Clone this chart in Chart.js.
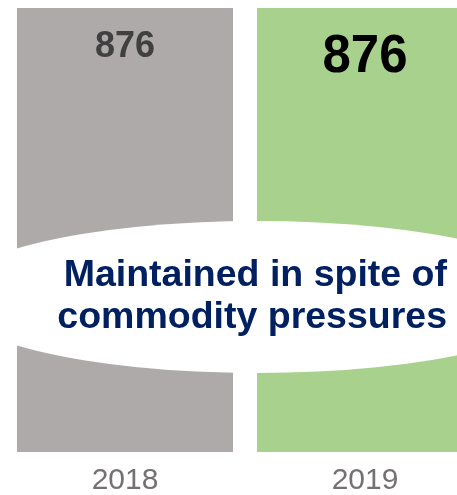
<!DOCTYPE html>
<html>
<head>
<meta charset="utf-8">
<script src="https://cdn.jsdelivr.net/npm/chart.js@4/dist/chart.umd.min.js"></script>
<style>
  html, body { margin: 0; padding: 0; background: #fff; overflow: hidden; }
  #wrap { position: relative; width: 485px; height: 495px; }
</style>
</head>
<body>
<div id="wrap"><canvas id="chart"></canvas></div>
<script>
"use strict";

// data
const years = ["2018", "2019"];
const values = [876, 876];
const barColors = ["#AEAAAA", "#A9D18E"];
const calloutLines = ["Maintained in spite of", "commodity pressures"];

// value labels on top of each bar: font px, vertical stretch, colour, baseline offset from bar top
const labelStyles = [
  { size: 36, stretch: 1.04, color: "#404040", drop: 49 },
  { size: 51, stretch: 1.06, color: "#000000", drop: 64 },
];

const FONT = "'Liberation Sans', Arial, Helvetica, sans-serif";

const calloutPlugin = {
  id: "callout",
  afterDatasetsDraw(chart) {
    const ctx = chart.ctx;
    // white oval across the middle of both bars
    ctx.save();
    ctx.fillStyle = "#ffffff";
    ctx.beginPath();
    ctx.ellipse(257, 297, 312, 76, 0, 0, Math.PI * 2);
    ctx.fill();

    ctx.fillStyle = "#002060";
    ctx.font = "bold 37.5px " + FONT;
    ctx.textAlign = "right";
    ctx.textBaseline = "alphabetic";
    ctx.fillText(calloutLines[0], 447, 286);
    ctx.fillText(calloutLines[1], 447, 328);
    ctx.restore();

    // bar value labels
    const meta = chart.getDatasetMeta(0);
    meta.data.forEach((bar, i) => {
      const st = labelStyles[i];
      ctx.save();
      ctx.translate(bar.x, bar.y + st.drop);
      ctx.scale(1, st.stretch);
      ctx.fillStyle = st.color;
      ctx.font = "bold " + st.size + "px " + FONT;
      ctx.textAlign = "center";
      ctx.textBaseline = "alphabetic";
      ctx.fillText(String(values[i]), 0, 0);
      ctx.restore();
    });
  },
};

new Chart(document.getElementById("chart"), {
  type: "bar",
  data: {
    labels: years,
    datasets: [
      {
        data: values,
        backgroundColor: barColors,
        borderWidth: 0,
        categoryPercentage: 1,
        barPercentage: 0.9,
      },
    ],
  },
  options: {
    responsive: true,
    maintainAspectRatio: false,
    animation: false,
    layout: { padding: { left: 5, right: 0, top: 8, bottom: 0 } },
    scales: {
      x: {
        grid: { display: false },
        border: { display: false },
        afterFit(axis) {
          axis.height = 43;
        },
        ticks: {
          color: "#767171",
          padding: 3,
          maxRotation: 0,
          font: { family: FONT, size: 30 },
        },
      },
      y: {
        display: false,
        min: 0,
        max: 876,
      },
    },
    plugins: {
      legend: { display: false },
      tooltip: { enabled: false },
    },
  },
  plugins: [calloutPlugin],
});
</script>
</body>
</html>
